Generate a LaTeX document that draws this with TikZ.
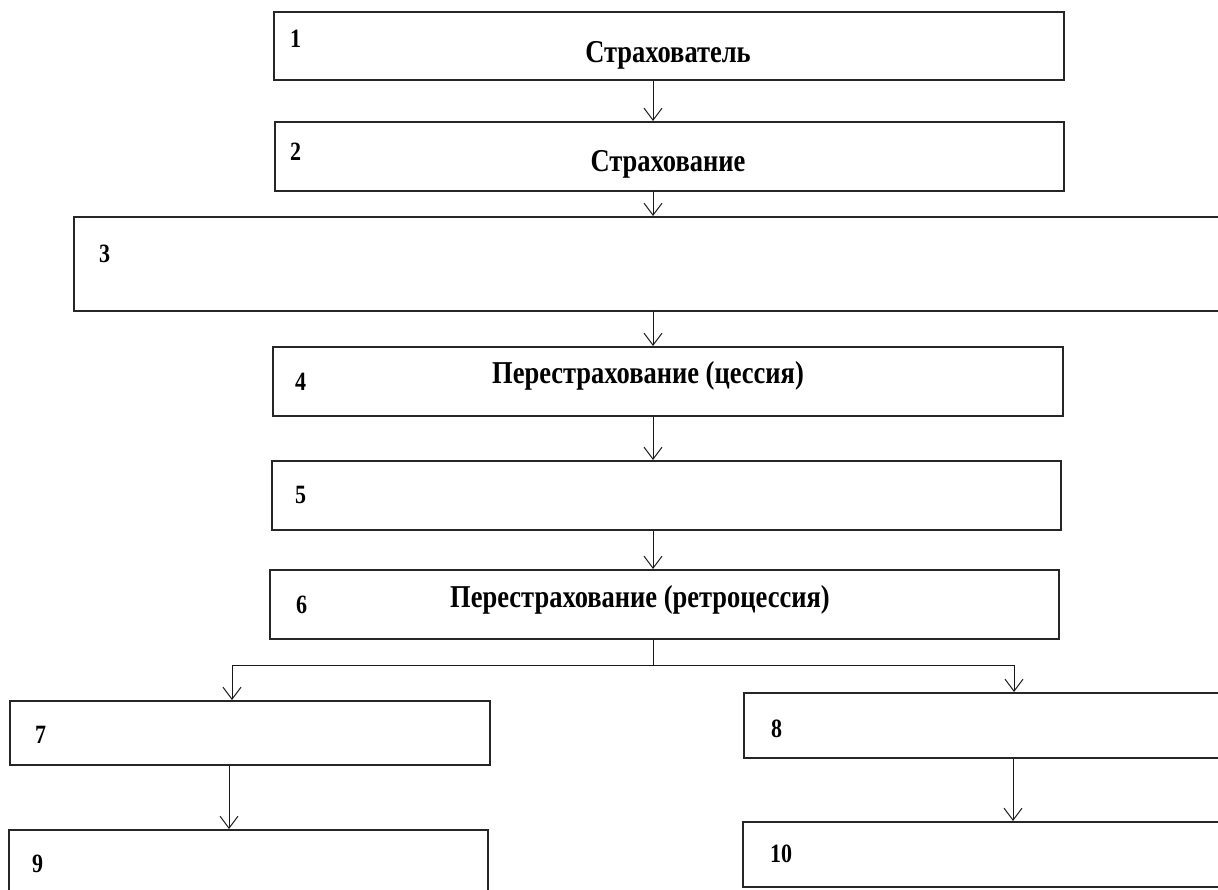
\documentclass[tikz,border=0pt]{standalone}
\usepackage{graphicx}
\usepackage{fontspec}
\setmainfont{Liberation Serif}
\usetikzlibrary{arrows.meta}
\newcommand\tallstretch[1]{\scalebox{1}[1.2]{#1}}
\begin{document}
\begin{tikzpicture}[x=1pt,y=-1pt,
  box/.style={draw=black!85,line width=1.7pt,rectangle,inner sep=0pt,anchor=north west},
  link/.style={draw=black!90,line width=1pt},
  conn/.style={link,-{Straight Barb[length=12pt,width=18pt,line width=1pt]}},
  num/.style={font=\fontsize{22}{22}\selectfont\bfseries,anchor=base west,inner sep=0pt},
  lbl/.style={font=\fontsize{26.5}{26.5}\selectfont\bfseries,anchor=base,inner sep=0pt}]
\useasboundingbox (0,0) rectangle (1218,889);
\clip (0,0) rectangle (1218,889);
% boxes
\node[box,minimum width=790pt,minimum height=68pt] (b1) at (273,11) {};
\node[box,minimum width=789pt,minimum height=69pt] (b2) at (274,121) {};
\node[box,minimum width=1160pt,minimum height=94pt] (b3) at (73,216) {};
\node[box,minimum width=790pt,minimum height=69pt] (b4) at (272,346) {};
\node[box,minimum width=789pt,minimum height=69pt] (b5) at (271,460) {};
\node[box,minimum width=789pt,minimum height=69pt] (b6) at (269,569) {};
\node[box,minimum width=480pt,minimum height=64pt] (b7) at (9,700) {};
\node[box,minimum width=490pt,minimum height=65pt] (b8) at (743,692) {};
\node[box,minimum width=479pt,minimum height=70pt] (b9) at (8,829) {};
\node[box,minimum width=491pt,minimum height=65pt] (b10) at (742,821) {};
% numbers
\node[num] (n1) at (290,47) {\tallstretch{1}};
\node[num] (n2) at (290,160) {\tallstretch{2}};
\node[num] (n3) at (99,262) {\tallstretch{3}};
\node[num] (n4) at (295,390) {\tallstretch{4}};
\node[num] (n5) at (295,503) {\tallstretch{5}};
\node[num] (n6) at (296,613) {\tallstretch{6}};
\node[num] (n7) at (35,743) {\tallstretch{7}};
\node[num] (n8) at (771,737) {\tallstretch{8}};
\node[num] (n9) at (32,872) {\tallstretch{9}};
\node[num] (n10) at (770,862) {\tallstretch{10}};
% texts
\node[lbl] (t1) at (668,62) {\tallstretch{Страхователь}};
\node[lbl] (t2) at (668,171) {\tallstretch{Страхование}};
\node[lbl] (t4) at (648,383) {\tallstretch{Перестрахование (цессия)}};
\node[lbl] (t6) at (640,607) {\tallstretch{Перестрахование (ретроцессия)}};
% connectors
\coordinate (ax) at (653,0);
\coordinate (l7) at (232,0);
\coordinate (l8) at (1014,0);
\coordinate (l9) at (229,0);
\coordinate (l10) at (1013,0);
\coordinate (jn) at (653,665);
\draw[conn] (b1.south -| ax) -- (b2.north -| ax);
\draw[conn] (b2.south -| ax) -- (b3.north -| ax);
\draw[conn] (b3.south -| ax) -- (b4.north -| ax);
\draw[conn] (b4.south -| ax) -- (b5.north -| ax);
\draw[conn] (b5.south -| ax) -- (b6.north -| ax);
\draw[link] (b6.south -| ax) -- (jn);
\draw[conn] (jn) -| (b7.north -| l7);
\draw[conn] (jn) -| (b8.north -| l8);
\draw[conn] (b7.south -| l9) -- (b9.north -| l9);
\draw[conn] (b8.south -| l10) -- (b10.north -| l10);
\end{tikzpicture}
\end{document}
